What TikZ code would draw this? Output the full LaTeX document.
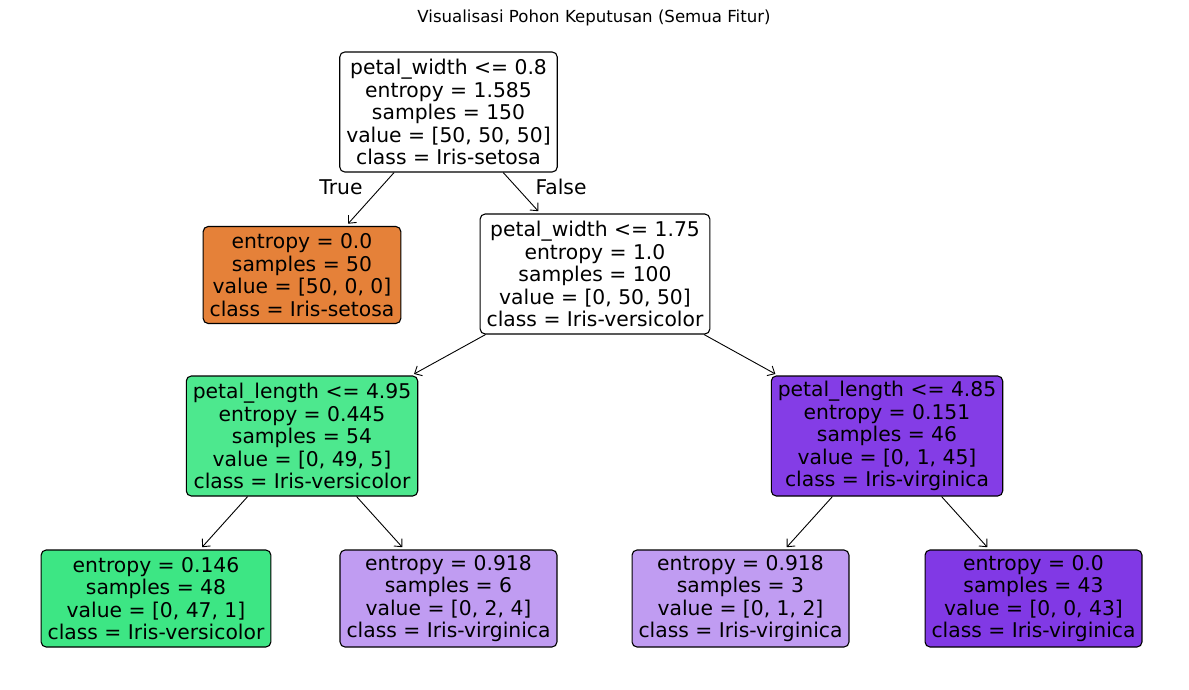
\documentclass[tikz,border=0pt]{standalone}
\usepackage{fontspec}
\setmainfont{DejaVu Sans}
\usepackage{tikz}
\usetikzlibrary{positioning,arrows.meta}

\definecolor{setosa}{HTML}{E58139}
\definecolor{versiA}{HTML}{4DE88E}
\definecolor{versiB}{HTML}{3DE684}
\definecolor{virgA}{HTML}{C09CF2}
\definecolor{virgB}{HTML}{843DE6}
\definecolor{virgC}{HTML}{8139E5}
\newcommand{\treefont}{\fontsize{20.3}{22.5}\selectfont}

\begin{document}
\begin{tikzpicture}[x=1pt,y=-1pt,
    box/.style={draw,rounded corners=5pt,align=center,font=\treefont,inner xsep=6.5pt,inner ysep=0pt,line width=1.1pt},
    split/.style={box,minimum height=120pt},
    leaf/.style={box,minimum height=97pt},
    edge/.style={-{Straight Barb[length=6pt,width=11pt]},line width=0.9pt,shorten >=3pt},
    lbl/.style={font=\treefont,inner sep=0pt}]
      \useasboundingbox (0,0) rectangle (1189,690);
      \node[font=\fontsize{16.6}{19}\selectfont] (title) at (594,18) {Visualisasi Pohon Keputusan (Semua Fitur)};
      % level 0 and 1
      \node[split] (root) at (448.5,112) {petal\_width <= 0.8\\entropy = 1.585\\samples = 150\\value = [50, 50, 50]\\class = Iris-setosa};
      \node[leaf,fill=setosa] (setosa) at (302,275) {entropy = 0.0\\samples = 50\\value = [50, 0, 0]\\class = Iris-setosa};
      \node[split] (pw) at (595,274) {petal\_width <= 1.75\\entropy = 1.0\\samples = 100\\value = [0, 50, 50]\\class = Iris-versicolor};
      % level 2
      \node[split,fill=versiA] (plA) at (302,436) {petal\_length <= 4.95\\entropy = 0.445\\samples = 54\\value = [0, 49, 5]\\class = Iris-versicolor};
      \node[split,fill=virgB] (plB) at (887,436) {petal\_length <= 4.85\\entropy = 0.151\\samples = 46\\value = [0, 1, 45]\\class = Iris-virginica};
      % leaves
      \node[leaf,fill=versiB] (leafA) at (156,598.5) {entropy = 0.146\\samples = 48\\value = [0, 47, 1]\\class = Iris-versicolor};
      \node[leaf,fill=virgA] (leafB) at (448.5,598.5) {entropy = 0.918\\samples = 6\\value = [0, 2, 4]\\class = Iris-virginica};
      \node[leaf,fill=virgA] (leafC) at (740.5,598.5) {entropy = 0.918\\samples = 3\\value = [0, 1, 2]\\class = Iris-virginica};
      \node[leaf,fill=virgC] (leafD) at (1033.5,598.5) {entropy = 0.0\\samples = 43\\value = [0, 0, 43]\\class = Iris-virginica};
      \foreach \a/\b in {root/setosa,root/pw,pw/plA,pw/plB,plA/leafA,plA/leafB,plB/leafC,plB/leafD}
      {\draw[edge] (\a) -- (\b);}
      \node[lbl] (true) at (341,187) {True};
      \node[lbl] (false) at (561,187) {False};
    \end{tikzpicture}
\end{document}
